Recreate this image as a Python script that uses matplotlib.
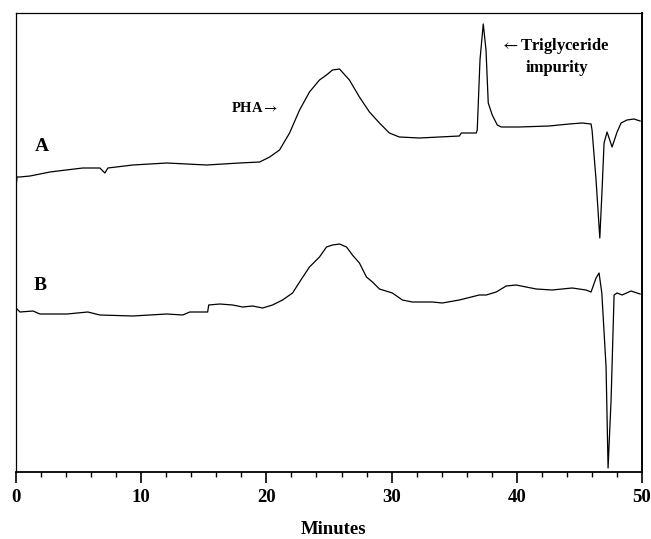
import matplotlib
matplotlib.use("Agg")
import matplotlib.pyplot as plt
from matplotlib.ticker import MultipleLocator

plt.rcParams["mathtext.fontset"] = "stix"

# Trace A (minutes, detector response in arbitrary units)
a_time = [0.0, 0.08, 0.3, 1.12, 2.71, 4.0, 5.34, 6.70, 7.10, 7.34, 9.33, 12.04,
          15.23, 17.86, 19.46, 20.26, 21.05, 21.85, 22.65, 23.44, 24.24, 24.80,
          25.28, 25.84, 26.63, 27.43, 28.23, 29.03, 29.82, 30.62, 32.22, 33.81,
          35.41, 35.57, 36.76, 36.84, 37.06, 37.32, 37.54, 37.72, 38.04, 38.44,
          38.76, 40.19, 42.58, 44.18, 45.22, 45.93, 46.01, 46.33, 46.63, 46.81,
          46.97, 47.21, 47.61, 48.01, 48.33, 48.80, 49.36, 49.85]
a_signal = [284, 295, 295, 296, 300, 302, 304, 304, 299, 304, 307, 309,
            307, 309, 310, 315, 322, 339, 362, 380, 392, 397,
            402, 403, 392, 375, 360, 349, 339, 335, 334, 335,
            336, 339, 339, 342, 412, 448, 422, 369, 357, 347,
            345, 345, 346, 348, 349, 348, 342, 292, 234, 282,
            329, 340, 325, 340, 349, 352, 353, 351]

# Trace B
b_time = [0.0, 0.32, 1.36, 1.91, 4.07, 5.74, 6.70, 9.33, 12.04, 13.32, 13.88,
          15.31, 15.39, 16.27, 17.30, 18.10, 18.90, 19.70, 20.49, 21.29, 22.09,
          22.65, 23.44, 24.24, 24.80, 25.28, 25.84, 26.40, 26.87, 27.43, 27.99,
          28.47, 29.03, 30.06, 30.86, 31.66, 33.25, 34.05, 35.41, 37.00, 37.56,
          38.36, 39.15, 39.95, 40.75, 41.55, 42.82, 44.42, 45.53, 45.93, 46.33,
          46.57, 46.79, 47.13, 47.29, 47.53, 47.77, 48.01, 48.41, 49.12, 49.60,
          49.85]
b_signal = [164, 160, 161, 158, 158, 160, 157, 156, 158, 157, 160,
            160, 167, 168, 167, 165, 166, 164, 167, 172, 179,
            190, 205, 215, 225, 227, 228, 225, 217, 209, 195,
            190, 183, 179, 172, 170, 170, 169, 172, 177, 177,
            180, 186, 187, 185, 183, 182, 184, 182, 180, 194,
            199, 179, 105, 4, 72, 177, 179, 177, 181, 179,
            178]

x_ticks = [0, 10, 20, 30, 40, 50]
x_label = "Minutes"

fig = plt.figure(figsize=(6.51, 5.39), dpi=100)
ax = fig.add_axes([16/651, (539-472)/539, (642-16)/651, (472-13)/539])

ax.plot(a_time, a_signal, color="black", lw=0.9)
ax.plot(b_time, b_signal, color="black", lw=0.9)

ax.set_xlim(0, 50)
ax.set_ylim(0, 459)
ax.set_xticks(x_ticks)
ax.xaxis.set_minor_locator(MultipleLocator(2))
ax.set_yticks([])
ax.tick_params(axis="x", which="major", direction="out", length=8, width=1.2,
               pad=4, labelsize=13.5)
ax.tick_params(axis="x", which="minor", direction="out", length=3.5, width=1.0)
for lbl in ax.get_xticklabels():
    lbl.set_fontfamily("Liberation Serif")
    lbl.set_fontweight("bold")
for side in ["left", "top", "right"]:
    ax.spines[side].set_linewidth(0.9)
ax.spines["bottom"].set_linewidth(1.3)
ax.spines["right"].set_linewidth(1.4)

fig.text(334/651, 1 - 530/539, x_label, ha="center", va="center",
         fontsize=13.5, fontweight="bold", family="Liberation Serif")

serif = dict(family="Liberation Serif", fontweight="bold", color="black")
ax.text(2.03, 325.5, "A", ha="center", va="center", fontsize=14, **serif)
ax.text(1.95, 186.5, "B", ha="center", va="center", fontsize=14, **serif)
ax.text(19.06, 364, r"PHA$\rightarrow$", ha="center", va="center",
        fontsize=10.5, **serif)
ax.text(43.0, 425.5, r"$\leftarrow$Triglyceride", ha="center", va="center",
        fontsize=12, **serif)
ax.text(43.2, 404, "impurity", ha="center", va="center", fontsize=12, **serif)

fig.savefig("out.png", dpi=100)
